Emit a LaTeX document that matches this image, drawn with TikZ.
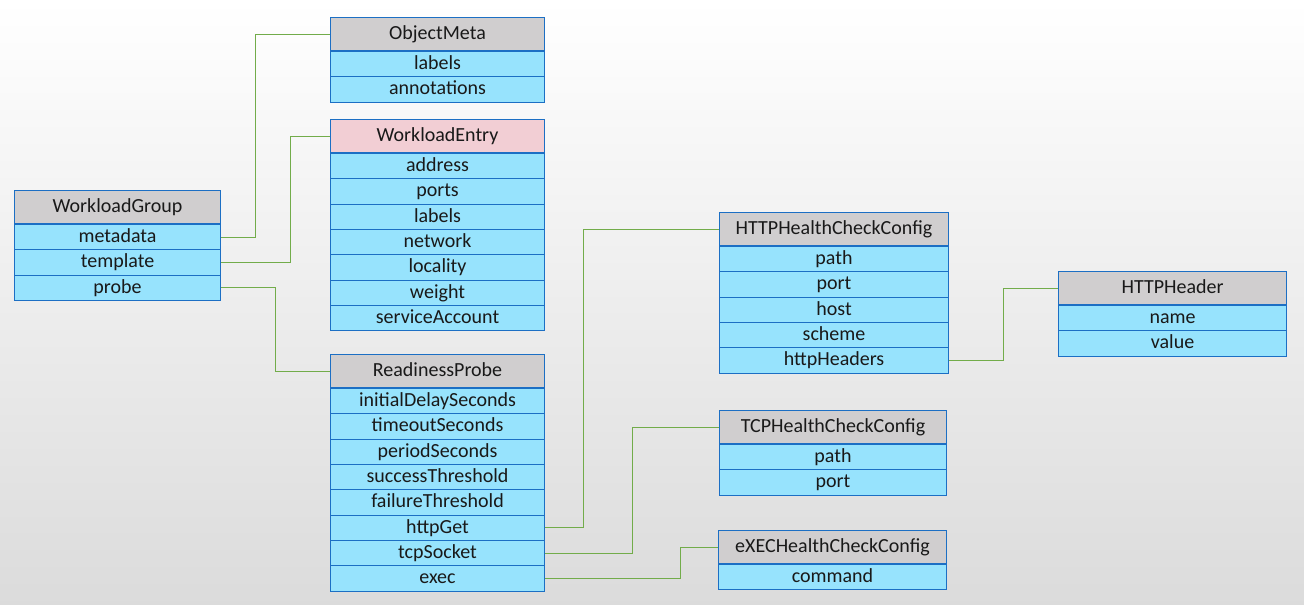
\documentclass[tikz,border=0pt]{standalone}
\usepackage{fontspec}
\setmainfont{Carlito}
\usetikzlibrary{positioning}

\definecolor{boxblue}{HTML}{1C6FC4}
\definecolor{fieldcyan}{HTML}{97E3FD}
\definecolor{headgray}{HTML}{D0CECF}
\definecolor{headpink}{HTML}{F2CED4}
\definecolor{linkgreen}{HTML}{72AC4A}

\tikzset{
    cell/.style={draw=boxblue,line width=0.8pt,inner sep=0pt,anchor=north west,
        text height=1.75ex,text depth=.15ex,text=black!90,
        font=\fontsize{15}{16}\selectfont},
    head/.style={cell,fill=headgray,minimum height=24.75pt},
    pinkhead/.style={head,fill=headpink},
    field/.style={cell,fill=fieldcyan,minimum height=19pt,anchor=north},
    link/.style={draw=linkgreen,line width=0.75pt}
}

% class box: id, head style, top left corner, width, title, fields
\newcommand{\classbox}[6]{
    \node[#2,minimum width=#4] (#1) at #3 {#5};
    \foreach \f [count=\i] in {#6}
        \node[field,minimum width=#4] (#1-\i) at ([yshift={-19pt*(\i-1)}]#1.south) {\f};
}

\begin{document}
\begin{tikzpicture}[x=0.75pt,y=-0.75pt]
    \shade[top color=white,middle color=black!4,bottom color=black!14] (0,0) rectangle (1304,604);

    \classbox{om}{head}{(330,17)}{160.5pt}{ObjectMeta}{labels,annotations}
    \classbox{we}{pinkhead}{(330,119)}{160.5pt}{WorkloadEntry}{address,ports,labels,network,locality,weight,serviceAccount}
    \classbox{wg}{head}{(14,190)}{154.5pt}{WorkloadGroup}{metadata,template,probe}
    \classbox{rp}{head}{(330,354)}{160.5pt}{ReadinessProbe}{initialDelaySeconds,timeoutSeconds,periodSeconds,successThreshold,failureThreshold,httpGet,tcpSocket,exec}
    \classbox{http}{head}{(719,212)}{171.75pt}{HTTPHealthCheckConfig}{path,port,host,scheme,httpHeaders}
    \classbox{hh}{head}{(1058,271)}{171pt}{HTTPHeader}{name,value}
    \classbox{tcp}{head}{(719,410)}{170.25pt}{TCPHealthCheckConfig}{path,port}
    \classbox{exe}{head}{(718,530)}{171pt}{eXECHealthCheckConfig}{command}

    % links
    \draw[link] (wg-1.east) -- ++(34,0) |- (om.west);
    \draw[link] (wg-2.east) -- ++(69,0) |- (we.west);
    \draw[link] (wg-3.east) -- ++(54,0) |- (rp.west);
    \draw[link] (rp-6.east) -- ++(38,0) |- (http.west);
    \draw[link] (rp-7.east) -- ++(87,0) |- (tcp.west);
    \draw[link] (rp-8.east) -- ++(135,0) |- (exe.west);
    \draw[link] (http-5.east) -- ++(54,0) |- (hh.west);
\end{tikzpicture}
\end{document}
